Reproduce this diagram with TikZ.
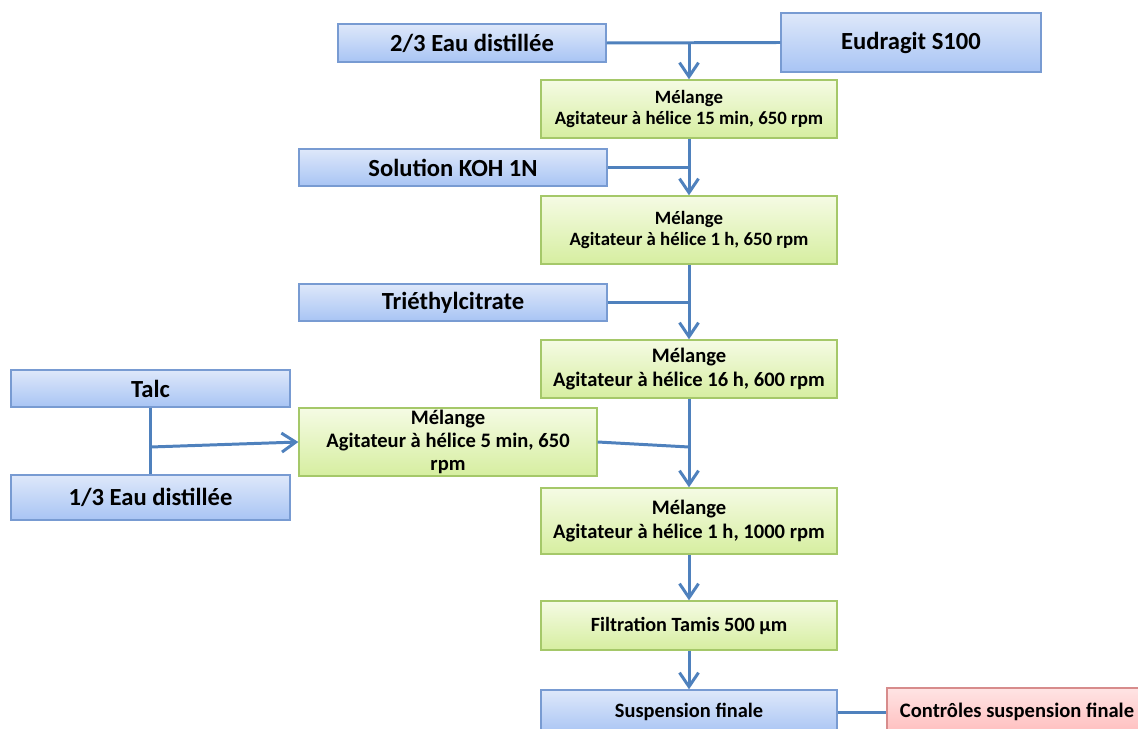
\documentclass[tikz,border=0pt]{standalone}
\usepackage{fontspec}
\setmainfont{Carlito}
\usetikzlibrary{arrows.meta, positioning, shadows}
\definecolor{flowline}{RGB}{79, 129, 189}
\definecolor{bluetop}{RGB}{222, 232, 250}
\definecolor{bluebot}{RGB}{168, 196, 244}
\definecolor{blueedge}{RGB}{120, 155, 210}
\definecolor{greentop}{RGB}{245, 251, 228}
\definecolor{greenbot}{RGB}{214, 238, 160}
\definecolor{greenedge}{RGB}{165, 200, 105}
\definecolor{redtop}{RGB}{255, 228, 228}
\definecolor{redbot}{RGB}{255, 188, 188}
\definecolor{rededge}{RGB}{215, 140, 140}
\tikzset{
  boxshadow/.style={drop shadow={opacity=0.25, shadow xshift=0.6pt, shadow yshift=-0.8pt}},
  ingredient/.style={draw=blueedge, line width=0.8pt, top color=bluetop, bottom color=bluebot, boxshadow, font=\bfseries\fontsize{14}{16}\selectfont, align=center},
  process/.style={draw=greenedge, line width=0.8pt, top color=greentop, bottom color=greenbot, boxshadow, font=\bfseries\fontsize{10.7}{12.5}\selectfont, align=center, minimum width=5.92cm},
  control/.style={draw=rededge, line width=0.8pt, top color=redtop, bottom color=redbot, boxshadow, font=\bfseries\fontsize{11.7}{13}\selectfont, align=center},
  flow/.style={draw=flowline, line width=1.7pt},
  flowarrow/.style={flow, -{Straight Barb[length=2.8mm, width=3.8mm, line width=1.7pt]}}
}
\begin{document}
\begin{tikzpicture}[x=0.02cm, y=-0.02cm]
  \useasboundingbox (0,0) rectangle (1138,729);

  % --- Ingredients ---
  \node[ingredient, minimum width=5.36cm, minimum height=0.76cm] (eaudeux) at (472,43) {2/3 Eau distillée};
  \node[ingredient, minimum width=5.2cm, minimum height=1.18cm] (eudragit) at (911,42.5) {Eudragit S100};
  \node[ingredient, minimum width=6.16cm, minimum height=0.74cm] (koh) at (453,167.5) {Solution KOH 1N};
  \node[ingredient, minimum width=6.16cm, minimum height=0.74cm] (tec) at (453,302.5) {Triéthylcitrate};
  \node[ingredient, minimum width=5.58cm, minimum height=0.74cm] (talc) at (150.5,388.5) {Talc};
  \node[ingredient, minimum width=5.58cm, minimum height=0.9cm] (eauun) at (150.5,497.5) {1/3 Eau distillée};

  % --- Steps ---
  \node[process, minimum height=1.16cm] (melA) at (689,109) {Mélange\\Agitateur à hélice 15 min, 650 rpm};
  \node[process, minimum height=1.36cm] (melB) at (689,230) {Mélange\\Agitateur à hélice 1 h, 650 rpm};
  \node[process, minimum height=1.16cm, font=\bfseries\fontsize{11.7}{13.6}\selectfont] (melC) at (689,369) {Mélange\\Agitateur à hélice 16 h, 600 rpm};
  \node[process, minimum width=5.96cm, minimum height=1.36cm, inner ysep=0pt, font=\bfseries\fontsize{11.7}{13}\selectfont] (talcmix) at (448,442) {Mélange\\Agitateur à hélice 5 min, 650\\rpm};
  \node[process, minimum height=1.32cm, font=\bfseries\fontsize{11.7}{13.6}\selectfont] (melD) at (689,521) {Mélange\\Agitateur à hélice 1 h, 1000 rpm};
  \node[process, minimum height=0.98cm, font=\bfseries\fontsize{11.5}{13}\selectfont] (filtre) at (689,625.5) {Filtration Tamis 500 µm};
  \node[ingredient, minimum width=5.92cm, minimum height=0.88cm, font=\bfseries\fontsize{11.6}{13}\selectfont] (susp) at (689,712) {Suspension finale};
  \node[control, minimum width=5.2cm, minimum height=0.96cm] (ctrl) at (1017,712) {Contrôles suspension finale};

  % --- Junctions ---
  \coordinate (jA) at (689,43);
  \coordinate (jB) at (689,167.5);
  \coordinate (jC) at (689,302.5);
  \coordinate (jT) at (150.5,447);
  \coordinate (jD) at (689,447);

  % --- Connectors ---
  \draw[flow] (eaudeux.east) -- (eudragit.west);
  \draw[flowarrow] (jA) -- (melA.north);
  \draw[flow] (koh.east) -- (jB);
  \draw[flowarrow] (melA.south) -- (melB.north);
  \draw[flow] (tec.east) -- (jC);
  \draw[flowarrow] (melB.south) -- (melC.north);
  \draw[flow] (talc.south) -- (eauun.north);
  \draw[flowarrow] (jT) -- (talcmix.west);
  \draw[flow] (talcmix.east) -- (jD);
  \draw[flowarrow] (melC.south) -- (melD.north);
  \draw[flowarrow] (melD.south) -- (filtre.north);
  \draw[flowarrow] (filtre.south) -- (susp.north);
  \draw[flow] (susp.east) -- (ctrl.west);
\end{tikzpicture}
\end{document}
